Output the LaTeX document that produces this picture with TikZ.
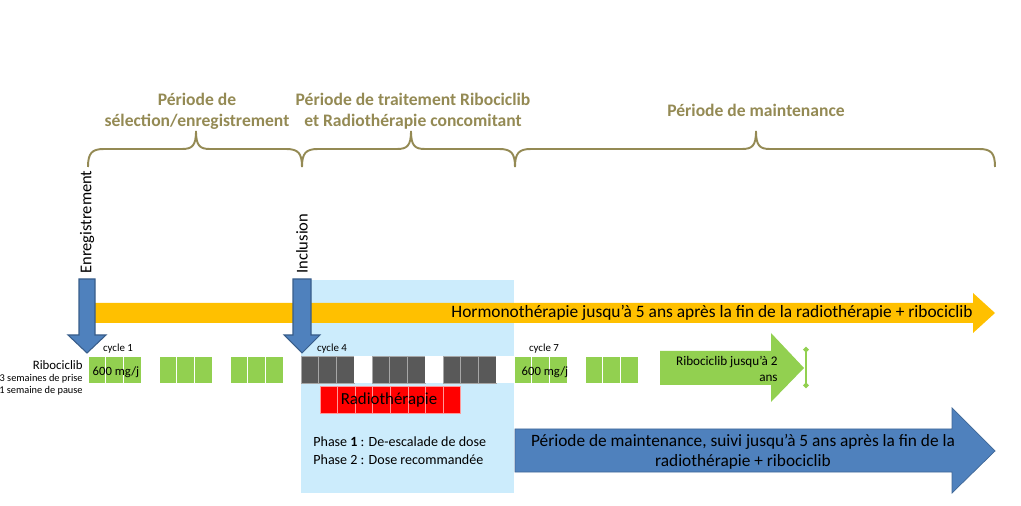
\documentclass[tikz,border=0pt]{standalone}
\usepackage{fontspec}
\setmainfont{Carlito}
\usetikzlibrary{arrows.meta}
\definecolor{periodcol}{HTML}{948A54}
\definecolor{armblue}{HTML}{4F81BD}
\definecolor{armblueline}{HTML}{385D8A}
\definecolor{hormocol}{HTML}{FFC000}
\definecolor{ribogreen}{HTML}{92D050}
\definecolor{ribogrey}{HTML}{595959}
\definecolor{phasebg}{RGB}{204,236,252}
\newcommand{\periodbrace}[3]{%
\draw[periodcol,line width=1.1pt] (#1,167) .. controls (#1,153) and (#1+4,149) .. (#1+16,149)
 -- (#2-14,149) .. controls (#2-4,149) and (#2,146) .. (#2,131)
 .. controls (#2,146) and (#2+4,149) .. (#2+14,149)
 -- (#3-16,149) .. controls (#3-4,149) and (#3,153) .. (#3,167);}
\begin{document}
\begin{tikzpicture}[x=0.02cm,y=-0.02cm,
period/.style={periodcol,font=\fontsize{10}{11.9}\selectfont\bfseries,align=center,inner sep=0},
milestone/.style={rotate=90,anchor=west,inner sep=0,font=\fontsize{9.4}{11}\selectfont},
small/.style={inner sep=0,font=\fontsize{6.2}{7}\selectfont},
dose/.style={inner sep=0,font=\fontsize{7.2}{8}\selectfont}]
\useasboundingbox (0,0) rectangle (1021,506);

\periodbrace{88}{196}{302}
\periodbrace{302}{411}{515}
\periodbrace{515}{756}{995}
\node[period](selection) at (197,111){Période de\\sélection/enregistrement};
\node[period](traitement) at (413,111){Période de traitement Ribociclib\\et Radiothérapie concomitant};
\node[period](maintenance) at (756,110){Période de maintenance};

\fill[phasebg] (301,280) rectangle (514,493);

\fill[hormocol] (87,303) -- (973,303) -- (973,293) -- (995,313) -- (973,333) -- (973,323) -- (87,323) -- cycle;
\node[anchor=east,inner sep=0,font=\fontsize{9.9}{11}\selectfont](hormono) at (973,313){Hormonothérapie jusqu’à 5 ans après la fin de la radiothérapie + ribociclib};

\node[milestone](enreg) at (87,274){Enregistrement};
\node[milestone](inclusion) at (302,274){Inclusion};
\draw[armblueline,fill=armblue,line width=0.6pt] (79,279) -- (95,279) -- (95,335) -- (106,335) -- (87,353) -- (68,335) -- (79,335) -- cycle;
\draw[armblueline,fill=armblue,line width=0.6pt] (293,279) -- (311,279) -- (311,335) -- (320,335) -- (302,353) -- (284,335) -- (293,335) -- cycle;

\foreach \c in {0,1,2,6,7}{
\foreach \w in {0,1,2}{
\draw[white,fill=ribogreen,line width=0.4pt] (88+71*\c+17.75*\w,356) rectangle ++(17.75,27);
}}
\foreach \c in {3,4,5}{
\foreach \w in {0,1,2}{
\draw[gray!70,fill=ribogrey,line width=0.4pt] (88+71*\c+17.75*\w,356) rectangle ++(17.75,27);
}
\fill[white] (88+71*\c+53.25,356) rectangle ++(17.75,27);
}
\node[small](cycleone) at (118,349){cycle 1};
\node[small](cyclefour) at (332,349){cycle 4};
\node[small](cycleseven) at (544,349){cycle 7};
\node[dose](doseone) at (116,372){600 mg/j};
\node[dose](doseseven) at (545,372){600 mg/j};

\node[anchor=east,inner sep=0,font=\fontsize{7.3}{8}\selectfont](ribo) at (83,365){Ribociclib};
\node[anchor=east,inner sep=0,font=\fontsize{5.9}{7}\selectfont](prise) at (83,379){3 semaines de prise};
\node[anchor=east,inner sep=0,font=\fontsize{5.9}{7}\selectfont](pause) at (83,391){1 semaine de pause};

\foreach \w in {0,...,7}{
\draw[red!40,fill=red,line width=0.4pt] (320+17.6*\w,386) rectangle ++(17.6,27);
}
\node[inner sep=0,font=\fontsize{9.6}{11}\selectfont](radio) at (389,400){Radiothérapie};

\node[anchor=west,inner sep=0,font=\fontsize{8}{9}\selectfont](phaseone) at (313,442){Phase \textbf{1} : De-escalade de dose};
\node[anchor=west,inner sep=0,font=\fontsize{8}{9}\selectfont](phasetwo) at (313,460){Phase 2 : Dose recommandée};

\fill[ribogreen] (660,351) -- (771,351) -- (771,333) -- (804,368) -- (771,402) -- (771,385) -- (660,385) -- cycle;
\node[anchor=east,align=right,inner sep=0,font=\fontsize{7.5}{9}\selectfont](ribodeux) at (778,369){Ribociclib jusqu’à 2\\ans};
\coordinate (bartop) at (806,347);
\coordinate (barbottom) at (806,388);
\draw[ribogreen,line width=1.1pt,{Circle[length=3pt]}-{Circle[length=3pt]}] (bartop) -- (barbottom);

\draw[armblue!80!black,fill=armblue,line width=0.4pt] (515,429) -- (952,429) -- (952,408) -- (995,451) -- (952,493) -- (952,472) -- (515,472) -- cycle;
\node[align=center,inner sep=0,font=\fontsize{9.85}{11.3}\selectfont](suivi) at (743,452){Période de maintenance, suivi jusqu’à 5 ans après la fin de la\\radiothérapie + ribociclib};
\end{tikzpicture}
\end{document}
